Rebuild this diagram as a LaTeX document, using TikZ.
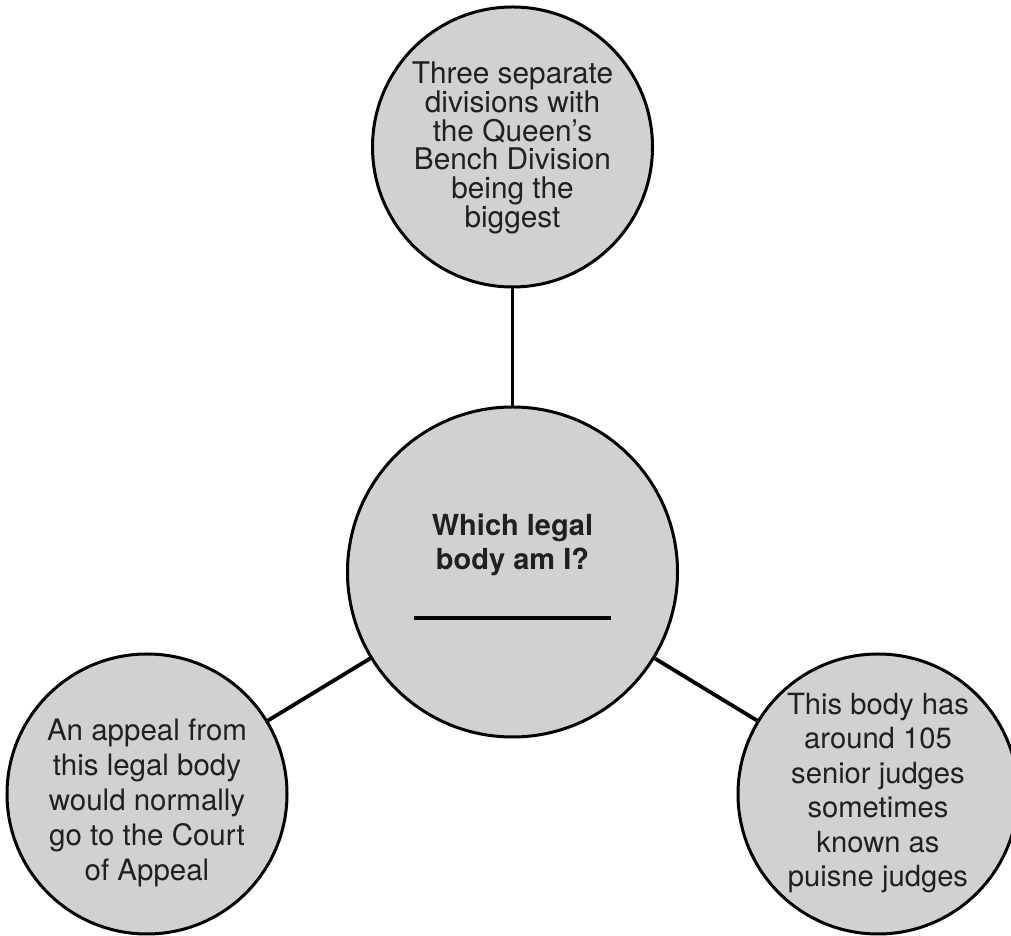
\documentclass[tikz,border=0pt]{standalone}
\usepackage{fontspec}
\setmainfont{TeX Gyre Heros}
\definecolor{ink}{HTML}{231F20}
\definecolor{disc}{HTML}{D1D1D1}
\begin{document}
\begin{tikzpicture}[x=1pt,y=1pt,
  bubble/.style={circle,draw=black,line width=3pt,fill=disc,inner sep=0pt,outer sep=0pt},
  link/.style={draw=black,line width=3.8pt},
  txt/.style={align=center,text=ink,inner sep=0pt,outer sep=0pt,
    font=\fontsize{29.5}{34.5}\selectfont}]
\useasboundingbox (0,0) rectangle (1011,936);
\clip (0,0) rectangle (1011,936);

% circles
\node[bubble,minimum size=280pt] (top) at (512.5,789) {};
\node[bubble,minimum size=330pt] (mid) at (512.5,364) {};
\node[bubble,minimum size=280pt] (left) at (147,142) {};
\node[bubble,minimum size=280pt] (right) at (878,142) {};

% spokes
\draw[link] (top) -- (mid);
\draw[link] (mid) -- (left);
\draw[link] (mid) -- (right);

% texts
\node[txt,font=\fontsize{29.8}{28.7}\selectfont] (toptext) at (512.5,788)
  {Three separate\\divisions with\\the Queen’s\\Bench Division\\being the\\biggest};
\node[txt,font=\fontsize{29}{34}\selectfont\bfseries] (midtext) at (512.5,391.5)
  {Which legal\\body am I?};
\node[txt,font=\fontsize{29.5}{35}\selectfont] (lefttext) at (147,133.5)
  {An appeal from\\this legal body\\would normally\\go to the Court\\of Appeal};
\node[txt,font=\fontsize{29.2}{34.5}\selectfont] (righttext) at (878,143)
  {This body has\\around 105\\senior judges\\sometimes\\known as\\puisne judges};

% answer blank
\coordinate (blankL) at (414,318);
\coordinate (blankR) at (611,318);
\draw[draw=black,line width=3.2pt] (blankL) -- (blankR);
\end{tikzpicture}
\end{document}
